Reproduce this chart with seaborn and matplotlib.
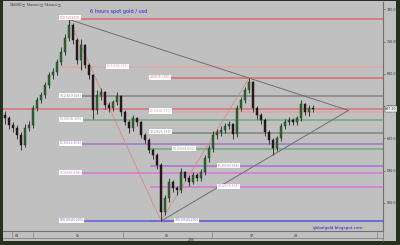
import numpy as np
import pandas as pd
import matplotlib
matplotlib.use("Agg")
import matplotlib.pyplot as plt
from matplotlib.patches import Rectangle
from matplotlib.lines import Line2D
import seaborn as sns

# ---------------- data (6-hour spot gold bars) ----------------
opens = [642.0, 638.8, 632.3, 629.5, 623.0, 613.7, 629.5, 632.3, 648.1, 655.6, 660.2, 669.5, 678.8,
         681.6, 690.9, 700.2, 713.3, 725.3, 711.4, 692.8, 706.7, 688.1, 678.8, 646.3, 660.2, 663.0,
         650.9, 648.1, 653.7, 659.3, 644.4, 635.1, 629.5, 638.8, 635.1, 623.0, 618.4, 609.1, 604.4,
         595.1, 551.4, 564.4, 579.3, 573.7, 571.9, 588.6, 583.0, 579.3, 585.8, 583.0, 588.6, 601.6,
         610.9, 623.0, 625.8, 627.7, 631.4, 633.3, 624.0, 648.1, 655.6, 664.9, 672.3, 648.1, 641.6,
         637.0, 625.8, 618.4, 610.9, 620.2, 631.4, 635.1, 637.0, 635.1, 638.8, 651.9, 644.4, 648.1]
closes = [638.8, 632.3, 629.5, 623.0, 613.7, 629.5, 632.3, 648.1, 655.6, 660.2, 669.5, 678.8, 681.6,
          690.9, 700.2, 713.3, 725.3, 711.4, 692.8, 706.7, 688.1, 678.8, 646.3, 660.2, 663.0, 650.9,
          648.1, 653.7, 659.3, 644.4, 635.1, 629.5, 638.8, 635.1, 623.0, 618.4, 609.1, 604.4, 595.1,
          551.4, 564.4, 579.3, 573.7, 571.9, 588.6, 583.0, 579.3, 585.8, 583.0, 588.6, 601.6, 610.9,
          623.0, 625.8, 627.7, 631.4, 633.3, 624.0, 648.1, 655.6, 664.9, 672.3, 648.1, 641.6, 637.0,
          625.8, 618.4, 610.9, 620.2, 631.4, 635.1, 637.0, 635.1, 638.8, 651.9, 644.4, 648.1, 647.2]
highs = [645.5, 641.0, 635.0, 632.0, 625.5, 633.0, 636.0, 651.0, 658.5, 663.0, 672.0, 682.0, 685.5,
         694.0, 704.5, 717.0, 730.5, 727.0, 713.0, 712.5, 708.0, 690.0, 680.0, 665.0, 666.5, 664.0,
         653.5, 656.0, 663.0, 660.5, 646.0, 637.0, 642.0, 640.0, 636.5, 625.0, 620.0, 611.0, 606.0,
         597.0, 567.0, 583.0, 581.5, 576.0, 592.0, 590.0, 586.0, 589.0, 587.5, 591.5, 604.0, 614.0,
         626.5, 629.0, 631.0, 634.0, 636.5, 634.5, 651.0, 658.5, 668.0, 676.0, 673.5, 650.0, 643.5,
         639.0, 627.5, 620.0, 622.5, 634.0, 637.5, 640.0, 638.5, 641.0, 656.0, 653.0, 651.0, 650.5]
lows = [633.0, 629.0, 626.0, 619.0, 609.0, 611.5, 626.5, 630.0, 645.5, 653.0, 657.5, 667.0, 675.5,
        679.0, 688.0, 697.5, 710.5, 708.0, 689.5, 683.5, 685.0, 675.5, 637.5, 643.0, 656.0, 647.5,
        644.0, 645.5, 650.5, 641.0, 632.0, 625.0, 627.0, 631.5, 620.0, 615.5, 606.0, 601.0, 591.5,
        543.0, 548.5, 561.0, 570.0, 567.5, 569.0, 580.0, 576.0, 577.0, 580.0, 580.5, 585.5, 598.0,
        607.5, 619.0, 622.5, 624.5, 628.5, 619.5, 621.5, 645.0, 652.5, 662.0, 644.5, 638.0, 633.5,
        622.0, 615.0, 604.5, 608.0, 617.0, 628.5, 632.5, 632.0, 632.5, 636.0, 641.5, 641.0, 644.5]

fib_levels = [0.0, 23.6, 38.2, 50.0, 61.8, 76.4, 100.0]
fib1_high, fib1_low = 730.65, 543.20      # May high -> June low
fib2_high, fib2_low = 676.10, 543.20      # July high -> June low
price_ticks = [560, 590, 620, 650, 680, 710, 740]
date_ticks = [3.0, 18.25, 40.5, 61.75, 72.75]
date_labels = ["04", "05", "06", "07", "08"]

# ---------------- style ----------------
sns.set_style("white")
plt.rcParams['font.family'] = ['DejaVu Sans']
GREY = "#c0c0c0"
W, H = 400, 245

fig = plt.figure(figsize=(W / 100, H / 100), dpi=100, facecolor="#27301f")
fig.patches.append(Rectangle((3 / W, 1 - 241 / H), 393 / W, 240 / H, transform=fig.transFigure,
                             facecolor=GREY, edgecolor="none", zorder=-5))


def box(x0, y0, x1, y1):
    return [x0 / W, 1 - y1 / H, (x1 - x0) / W, (y1 - y0) / H]


ax = fig.add_axes(box(3, 2, 383, 231))
ax.set_zorder(1)
ax.set_facecolor(GREY)
ax.set_xlim(-0.5, 94.5)
ax.set_ylim(730 - 211 / 1.075, 730 + 18 / 1.075)

idx = np.arange(len(closes))
df = pd.DataFrame({"i": idx, "o": opens, "c": closes, "h": highs, "l": lows})

# fibonacci level lines
fib_colors = ["#d8787b", "#d9a9a9", "#8c8c8c", "#84a98a", "#a97fcb", "#d67fd3", "#6c6cd8"]


def fib_price(hi, lo, lvl):
    return hi - (hi - lo) * lvl / 100.0


lbl_kw = dict(fontsize=2.2, va="center", ha="left", zorder=6)
set1_label_x = [13.75, 25.5, 13.75, 13.75, 13.75, 13.75, 13.75]
set2_label_x = [36.25, 36.25, 36.25, 42.0, 53.25, 53.25, 42.5]
for k, lvl in enumerate(fib_levels):
    p1 = fib_price(fib1_high, fib1_low, lvl)
    ax.hlines(p1, 13.75 if lvl > 0 else 15.5, 94.5, color=fib_colors[k], lw=1.3, zorder=1)
    ax.text(set1_label_x[k], p1 + (1.5 if lvl == 0 else 0.6), f"{lvl:.1f}({p1:.3f})", color=fib_colors[k],
            bbox=dict(facecolor="white", edgecolor="none", pad=0.4), **lbl_kw)
    p2 = fib_price(fib2_high, fib2_low, lvl)
    ax.hlines(p2, 36.25, 94.5, color=fib_colors[k], lw=1.3, zorder=1)
    ax.text(set2_label_x[k], p2 + 0.6, f"{lvl:.1f}({p2:.3f})", color=fib_colors[k],
            bbox=dict(facecolor="white", edgecolor="none", pad=0.4), **lbl_kw)

# current price line
last = closes[-1]
ax.axhline(last, color="#d8787b", lw=1.2, zorder=1)

# trend lines (triangle)
i_peak = int(np.argmax(highs)); i_low = int(np.argmin(lows))
i_jul = 61; i_aug = 67
s_up = (highs[i_jul] - highs[i_peak]) / (i_jul - i_peak)
s_dn = (lows[i_aug] - lows[i_low]) / (i_aug - i_low)
x_apex = (lows[i_low] - highs[i_peak] + s_up * i_peak - s_dn * i_low) / (s_up - s_dn)
y_apex = highs[i_peak] + s_up * (x_apex - i_peak)
tri = pd.DataFrame({"x": [i_peak, x_apex, i_low, x_apex],
                    "y": [highs[i_peak], y_apex, lows[i_low], y_apex],
                    "seg": ["up", "up", "dn", "dn"]})
sns.lineplot(data=tri, x="x", y="y", units="seg", estimator=None, color="#6e6e6e", lw=0.7,
             ax=ax, zorder=2, legend=False)
# fib drawing diagonals
diag = pd.DataFrame({"x": [i_peak, i_low, i_low, i_jul],
                     "y": [highs[i_peak], lows[i_low], lows[i_low], highs[i_jul]],
                     "seg": ["a", "a", "b", "b"]})
sns.lineplot(data=diag, x="x", y="y", units="seg", estimator=None, color="#d98080", lw=0.5,
             ax=ax, zorder=2, legend=False)

# candlesticks
ax.vlines(df["i"], df["l"], df["h"], color="#1c241c", lw=0.6, zorder=3)
up = (df["c"] >= df["o"]).to_numpy()
xi = df["i"].to_numpy(); o = df["o"].to_numpy(); c = df["c"].to_numpy()
body = np.maximum(np.abs(c - o), 0.5)
ax.bar(xi[up], body[up], bottom=o[up], width=0.45,
       facecolor="#2f6a30", edgecolor="#183418", linewidth=0.3, zorder=4)
ax.bar(xi[~up], body[~up], bottom=c[~up], width=0.45,
       facecolor="#2a1c1c", edgecolor="#140c0c", linewidth=0.3, zorder=4)

# axes decoration
for s in ["top", "left"]:
    ax.spines[s].set_visible(False)
for s in ["right", "bottom"]:
    ax.spines[s].set_color("#707070")
    ax.spines[s].set_linewidth(0.8)
ax.yaxis.tick_right()
ax.set_yticks(price_ticks)
ax.set_yticklabels([f"{v:.2f}" for v in price_ticks])
ax.set_yticks(np.arange(535, 746, 5), minor=True)
ax.tick_params(axis="y", which="major", labelsize=2.3, length=1.5, width=0.4, pad=1.2,
               colors="#404040", labelcolor="#303030")
ax.tick_params(axis="y", which="minor", length=0.8, width=0.3, colors="#606060")
ax.set_xticks(date_ticks)
ax.set_xticklabels(date_labels)
ax.tick_params(axis="x", labelsize=2.3, length=0, pad=2.5, labelcolor="#303030")
ax.set_xlabel(""); ax.set_ylabel("")

ax.annotate(f"{last:.2f}", xy=(1.0, last), xycoords=("axes fraction", "data"), xytext=(1.5, 0),
            textcoords="offset points", fontsize=2.3, va="center", ha="left", color="#202020",
            bbox=dict(facecolor="#f4f4f4", edgecolor="#404040", lw=0.3, pad=0.4), annotation_clip=False)

# texts
fig.text(119 / W, 1 - 12 / H, "6 hours spot gold / usd", color="#2424c8", fontsize=3.6,
         ha="center", va="center", zorder=5)
fig.text(10 / W, 1 - 4 / H, "XAUUSD \u25a1  Fibonacci \u25a1  Fibonacci \u25a1", color="#303030",
         fontsize=2.0, ha="left", va="center", zorder=5)
fig.text(338 / W, 1 - 228 / H, "globalgold.blogspot.com", color="#2424c8", fontsize=3.0,
         ha="center", va="center", zorder=5)
fig.text(191 / W, 1 - 240 / H, "2006", color="#303030", fontsize=2.0, ha="center", va="center", zorder=5)

# date strip lines
fig.add_artist(Line2D([3 / W, 383 / W], [1 - 238 / H, 1 - 238 / H], color="#808080", lw=0.6))
for xs in [12, 33, 123, 212, 377]:
    fig.add_artist(Line2D([xs / W, xs / W], [1 - 232 / H, 1 - 238 / H], color="#808080", lw=0.5))
fig.add_artist(Line2D([383 / W, 383 / W], [1 - 231 / H, 1 - 241 / H], color="#808080", lw=0.6))

fig.savefig("out.png", dpi=100, facecolor=fig.get_facecolor())
